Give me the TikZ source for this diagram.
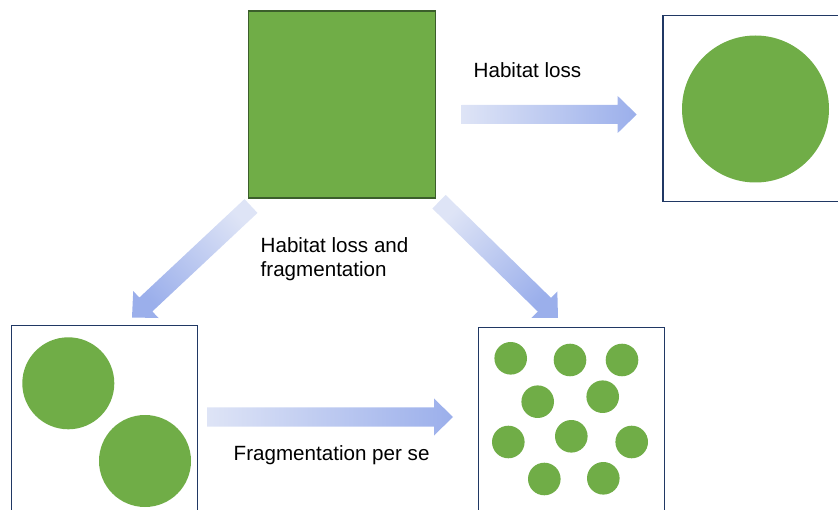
\documentclass[tikz,border=0pt]{standalone}
\usepackage{fontspec}
\setmainfont{Liberation Sans}
\usetikzlibrary{calc}
\definecolor{patchgreen}{HTML}{70AD47}
\definecolor{patchedge}{HTML}{3B5E2B}
\definecolor{framenavy}{HTML}{203864}
\definecolor{arrowlight}{HTML}{DEE4F6}
\definecolor{arrowdark}{HTML}{9BAFEB}
\tikzset{
  habitat/.style={fill=patchgreen, draw=patchedge, line width=1.2pt, minimum size=187pt, inner sep=0pt},
  landscape/.style={draw=framenavy, line width=1.5pt, minimum size=186pt, inner sep=0pt},
  patch/.style={circle, fill=patchgreen, inner sep=0pt, minimum size=#1},
  caption/.style={anchor=base west, inner sep=0pt, align=left, font=\fontsize{20.6}{24}\selectfont}
}
% shaded block arrow from one named point to another
\newcommand\fatarrow[2]{%
  \path let \p1=($(#2)-(#1)$), \n1={atan2(\y1,\x1)}, \n2={veclen(\x1,\y1)} in
    \pgfextra{\xdef\arrowrot{\n1}\xdef\arrowlen{\n2}};
  \shade[shift={(#1)}, rotate=\arrowrot, left color=arrowlight, right color=arrowdark,
      shading angle={\arrowrot+90}]
    (0pt,-9.5pt) -- ({\arrowlen-19pt},-9.5pt) -- ({\arrowlen-19pt},-18.5pt) -- ({\arrowlen},0pt)
    -- ({\arrowlen-19pt},18.5pt) -- ({\arrowlen-19pt},9.5pt) -- (0pt,9.5pt) -- cycle;
}

\begin{document}
\begin{tikzpicture}[x=1pt, y=-1pt]
  \useasboundingbox (0,0) rectangle (838,510);

  % original habitat
  \node[habitat] (intact) at (342,104.5) {};

  % three landscapes after change
  \node[landscape] (lost) at (756,108.5) {};
  \node[landscape] (split) at (104.7,418.7) {};
  \node[landscape] (frag) at (571.3,420.3) {};

  \node[patch=147pt] (lostpatch) at (755.5,109) {};
  \node[patch=92pt] (splitA) at (68.3,383.3) {};
  \node[patch=92pt] (splitB) at (145,461) {};
  \foreach \px/\py [count=\k] in {510.7/358.3, 570/360, 622/360, 537.7/401.7, 602.7/396.7,
      508.3/442, 571.3/436.3, 631.7/442, 544.3/479, 603.3/478.3}
    \node[patch=32.6pt] (frag\k) at (\px,\py) {};

  % arrows
  \coordinate (lossTail) at (461.7,114.5);
  \coordinate (lossTip) at (636.7,114.5);
  \coordinate (splitTail) at (251,206);
  \coordinate (splitTip) at (132,317.5);
  \coordinate (fragTail) at (439,201.7);
  \coordinate (fragTip) at (558,318);
  \coordinate (perseTail) at (207,417);
  \coordinate (perseTip) at (453,417);
  \fatarrow{lossTail}{lossTip}
  \fatarrow{splitTail}{splitTip}
  \fatarrow{fragTail}{fragTip}
  \fatarrow{perseTail}{perseTip}

  % labels
  \node[caption] (lossLabel) at (473.5,77.7) {Habitat loss};
  \node[caption] (bothLabel) at (260.5,276.7) {Habitat loss and\\fragmentation};
  \node[caption] (perseLabel) at (233.5,460.7) {Fragmentation per se};
\end{tikzpicture}
\end{document}
